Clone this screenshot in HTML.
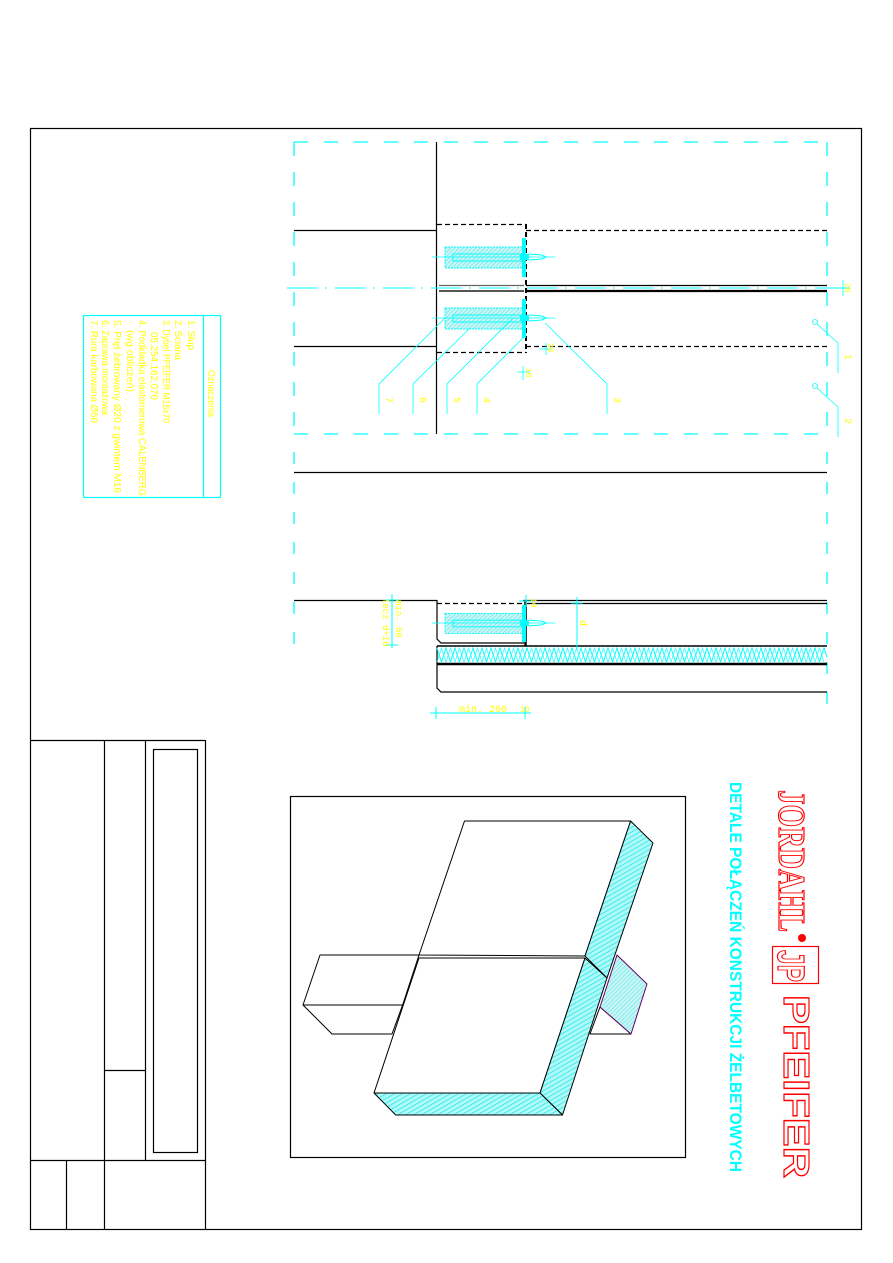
<!DOCTYPE html>
<html><head><meta charset="utf-8"><style>
html,body{margin:0;padding:0;background:#fff;}
svg{display:block;}
.y{fill:#ffff00;font-family:"Liberation Mono",monospace;}
.l{fill:#ffff00;font-family:"Liberation Sans",sans-serif;}
</style></head><body>
<svg width="893" height="1263" viewBox="0 0 893 1263" xmlns="http://www.w3.org/2000/svg">
<defs>
<pattern id="h" width="4" height="4" patternUnits="userSpaceOnUse" patternTransform="rotate(60)">
<rect width="4" height="4" fill="#aef8f8"/><line x1="0" y1="0" x2="0" y2="4" stroke="#00e5e5" stroke-width="1.2"/>
</pattern>
<pattern id="hp" width="3" height="3" patternUnits="userSpaceOnUse" patternTransform="rotate(45)">
<rect width="3" height="3" fill="#c8f6f6"/><line x1="0" y1="0" x2="0" y2="3" stroke="#33dddd" stroke-width="0.8"/>
</pattern>
<g id="dowel">
<rect x="445" y="-10" width="79" height="21" fill="url(#hp)" stroke="#00ffff" stroke-width="1" stroke-dasharray="2,1"/>
<rect x="453" y="-3" width="71" height="7" fill="none" stroke="#00ffff" stroke-width="1"/>
<rect x="522" y="-19" width="4" height="39" fill="#00ffff"/>
<rect x="520" y="-3" width="9" height="6" fill="#00ffff"/>
<path d="M529 -3 L542 -2 L546 0 L542 2 L529 3" fill="none" stroke="#00ffff" stroke-width="1"/>
<line x1="432" y1="0" x2="555" y2="0" stroke="#00ffff" stroke-width="0.7"/>
</g>
</defs>

<!-- outer frame -->
<rect x="30.5" y="128.5" width="831" height="1101" fill="none" stroke="#000" stroke-width="1.2"/>

<!-- title block -->
<g stroke="#000" stroke-width="1.2" fill="none">
<line x1="30" y1="740.5" x2="205" y2="740.5"/>
<line x1="205.5" y1="740" x2="205.5" y2="1229"/>
<line x1="104.5" y1="740" x2="104.5" y2="1229"/>
<line x1="145.5" y1="740" x2="145.5" y2="1160"/>
<line x1="30" y1="1160.5" x2="205" y2="1160.5"/>
<line x1="66.5" y1="1160" x2="66.5" y2="1229"/>
<line x1="104" y1="1070.5" x2="145" y2="1070.5"/>
<rect x="153.5" y="749.5" width="44" height="403"/>
</g>

<!-- legend -->
<rect x="83.5" y="315.5" width="137" height="182" fill="none" stroke="#00ffff" stroke-width="1.2"/>
<line x1="203.5" y1="315" x2="203.5" y2="497" stroke="#00ffff" stroke-width="1.2"/>
<g class="l" font-size="10">
<text transform="translate(208,370) rotate(90)" textLength="47" lengthAdjust="spacingAndGlyphs">Oznaczenia</text>
<text transform="translate(188,320) rotate(90)" textLength="30" lengthAdjust="spacingAndGlyphs">1. Słup</text>
<text transform="translate(175,320) rotate(90)" textLength="40" lengthAdjust="spacingAndGlyphs">2. Ściana</text>
<text transform="translate(163,320) rotate(90)" textLength="103" lengthAdjust="spacingAndGlyphs">3. Dybel PFEIFER M16x70</text>
<text transform="translate(151,332) rotate(90)" textLength="68" lengthAdjust="spacingAndGlyphs">05.254.162.070</text>
<text transform="translate(139,320) rotate(90)" textLength="176" lengthAdjust="spacingAndGlyphs">4. Podkładka elastomerowa CALENBERG</text>
<text transform="translate(127,330) rotate(90)" textLength="62" lengthAdjust="spacingAndGlyphs">(wg obliczeń)</text>
<text transform="translate(114,320) rotate(90)" textLength="173" lengthAdjust="spacingAndGlyphs">5. Pręt żebrowany Ø20 z gwintem M16</text>
<text transform="translate(102,320) rotate(90)" textLength="95" lengthAdjust="spacingAndGlyphs">6. Zaprawa montażowa</text>
<text transform="translate(91,320) rotate(90)" textLength="103" lengthAdjust="spacingAndGlyphs">7. Rura karbowana Ø60</text>
</g>

<!-- upper detail -->
<g fill="none" stroke="#00ffff" stroke-width="1.3" stroke-dasharray="14,16">
<line x1="294" y1="142" x2="827" y2="142"/>
<line x1="294" y1="434" x2="827" y2="434"/>
<line x1="294" y1="142" x2="294" y2="434"/>
<line x1="827" y1="142" x2="827" y2="434"/>
</g>
<g stroke="#000" stroke-width="1.2" fill="none">
<line x1="436.5" y1="142" x2="436.5" y2="434"/>
<line x1="294" y1="230.5" x2="437" y2="230.5"/>
<line x1="294" y1="346.5" x2="437" y2="346.5"/>
<g stroke-dasharray="5,3">
<line x1="526" y1="230.5" x2="827" y2="230.5"/>
<line x1="526" y1="346.5" x2="827" y2="346.5"/>
<line x1="437" y1="224.5" x2="526" y2="224.5"/>
<line x1="437" y1="352.5" x2="526" y2="352.5"/>
<line x1="526" y1="224" x2="526" y2="353" stroke-width="2"/>
</g>
<line x1="439" y1="285.5" x2="524" y2="285.5" stroke="#666"/>
<line x1="439" y1="291" x2="524" y2="291" stroke="#555" stroke-width="2"/>
<line x1="526" y1="285.5" x2="827" y2="285.5"/>
<line x1="526" y1="291" x2="827" y2="291" stroke-width="2.2"/>
</g>
<line x1="287" y1="288" x2="845" y2="288" stroke="#00ffff" stroke-width="1" stroke-dasharray="30,8,2,8"/>
<use href="#dowel" transform="translate(0,257)"/>
<use href="#dowel" transform="translate(0,318)"/>

<!-- leaders -->
<g stroke="#00ffff" stroke-width="0.8" fill="none">
<polyline points="379,414 379,384 445,318"/>
<polyline points="413,414 413,384 470,328"/>
<polyline points="447,414 447,384 513,318"/>
<polyline points="477,414 477,384 523,338"/>
<polyline points="607,414 607,384 545,323"/>
<circle cx="815" cy="322" r="2.5"/>
<polyline points="817,324 838,343 838,373"/>
<circle cx="815" cy="386" r="2.5"/>
<polyline points="817,388 838,407 838,437"/>
<line x1="517" y1="372" x2="530" y2="372"/><line x1="523" y1="366" x2="523" y2="380"/>
<line x1="540" y1="349" x2="552" y2="349"/><line x1="546" y1="343" x2="546" y2="355"/>
<line x1="837" y1="288" x2="850" y2="288"/><line x1="843" y1="280" x2="843" y2="296"/>
</g>
<g class="y" font-size="10">
<text transform="translate(386,397) rotate(90)">7</text>
<text transform="translate(420,397) rotate(90)">6</text>
<text transform="translate(454,397) rotate(90)">5</text>
<text transform="translate(484,397) rotate(90)">4</text>
<text transform="translate(614,397) rotate(90)">3</text>
<text transform="translate(845,354) rotate(90)">1</text>
<text transform="translate(845,418) rotate(90)">2</text>
<text transform="translate(526,368) rotate(90)" font-size="8">10</text>
<text transform="translate(548,343) rotate(90)" font-size="8">20</text>
<text transform="translate(845,283) rotate(90)" font-size="8">20</text>
</g>

<!-- middle / lower detail -->
<line x1="294" y1="472.5" x2="827" y2="472.5" stroke="#000" stroke-width="1.2"/>
<g stroke="#00ffff" stroke-width="1.3" stroke-dasharray="12,18">
<line x1="294" y1="452" x2="294" y2="660"/>
<line x1="827" y1="452" x2="827" y2="718"/>
</g>
<g stroke="#000" stroke-width="1.2" fill="none">
<line x1="294" y1="600.5" x2="437" y2="600.5"/>
<path d="M437 600 L437 639 L441 643 L524 643"/>
<line x1="437" y1="603.5" x2="523" y2="603.5" stroke-dasharray="5,3"/>
<line x1="523" y1="600.5" x2="827" y2="600.5"/>
<line x1="527" y1="603.5" x2="827" y2="603.5"/>
<line x1="525.5" y1="600" x2="525.5" y2="646" stroke-width="2.5"/>
<path d="M437 646 L437 688 L441 692 L827 692"/>
<line x1="437" y1="664" x2="827" y2="664" stroke-width="2.4"/>
<line x1="437" y1="646" x2="827" y2="646" stroke-width="1.6"/>
</g>
<polyline fill="none" stroke="#00ffff" stroke-width="1" points="437,648 441.5,662 446,648 450.5,662 455,648 459.5,662 464,648 468.5,662 473,648 477.5,662 482,648 486.5,662 491,648 495.5,662 500,648 504.5,662 509,648 513.5,662 518,648 522.5,662 527,648 531.5,662 536,648 540.5,662 545,648 549.5,662 554,648 558.5,662 563,648 567.5,662 572,648 576.5,662 581,648 585.5,662 590,648 594.5,662 599,648 603.5,662 608,648 612.5,662 617,648 621.5,662 626,648 630.5,662 635,648 639.5,662 644,648 648.5,662 653,648 657.5,662 662,648 666.5,662 671,648 675.5,662 680,648 684.5,662 689,648 693.5,662 698,648 702.5,662 707,648 711.5,662 716,648 720.5,662 725,648 729.5,662 734,648 738.5,662 743,648 747.5,662 752,648 756.5,662 761,648 765.5,662 770,648 774.5,662 779,648 783.5,662 788,648 792.5,662 797,648 801.5,662 806,648 810.5,662 815,648 819.5,662 824,648 827,657"/>
<polyline fill="none" stroke="#00ffff" stroke-width="0.6" points="437,662 441.5,648 446,662 450.5,648 455,662 459.5,648 464,662 468.5,648 473,662 477.5,648 482,662 486.5,648 491,662 495.5,648 500,662 504.5,648 509,662 513.5,648 518,662 522.5,648 527,662 531.5,648 536,662 540.5,648 545,662 549.5,648 554,662 558.5,648 563,662 567.5,648 572,662 576.5,648 581,662 585.5,648 590,662 594.5,648 599,662 603.5,648 608,662 612.5,648 617,662 621.5,648 626,662 630.5,648 635,662 639.5,648 644,662 648.5,648 653,662 657.5,648 662,662 666.5,648 671,662 675.5,648 680,662 684.5,648 689,662 693.5,648 698,662 702.5,648 707,662 711.5,648 716,662 720.5,648 725,662 729.5,648 734,662 738.5,648 743,662 747.5,648 752,662 756.5,648 761,662 765.5,648 770,662 774.5,648 779,662 783.5,648 788,662 792.5,648 797,662 801.5,648 806,662 810.5,648 815,662 819.5,648 824,662"/>
<use href="#dowel" transform="translate(0,623) scale(1,0.95)"/>
<g stroke="#00ffff" stroke-width="1" fill="none">
<line x1="392" y1="594" x2="392" y2="648"/>
<line x1="386" y1="600" x2="398" y2="600"/><line x1="386" y1="645" x2="398" y2="645"/>
<line x1="577" y1="597" x2="577" y2="650"/>
<line x1="571" y1="603" x2="583" y2="603"/>
<line x1="519" y1="601" x2="533" y2="601"/><line x1="526" y1="595" x2="526" y2="607"/>
<line x1="430" y1="713" x2="531" y2="713"/>
<line x1="436" y1="707" x2="436" y2="719"/><line x1="525" y1="707" x2="525" y2="719"/>
</g>
<g class="y" font-size="10">
<text transform="translate(383,598) rotate(90)" font-size="9">lecz d+10</text>
<text transform="translate(396,600) rotate(90)" font-size="9">min. 50</text>
<text transform="translate(580,620) rotate(90)">d</text>
<text transform="translate(531,598) rotate(90)" font-size="8">10</text>
<text x="459" y="712" font-size="10">min. 200</text>
<text x="520" y="712" font-size="8">10</text>
</g>

<!-- 3D view -->
<rect x="290.5" y="796.5" width="395" height="361" fill="none" stroke="#000" stroke-width="1.2"/>
<g stroke="#000" stroke-width="1" fill="#fff" stroke-linejoin="round">
<polygon points="320,955 419,955 402.6,1005 303,1005"/>
<polygon points="303,1005 402.6,1005 392,1034 332,1034"/>
<polygon points="590,1034 631,1034 600,1007"/>
<polygon points="464.5,821 630.6,821 585,956 419,955"/>
<polygon points="630.6,821 653,843 607,978 585,956" fill="url(#h)"/>
<polygon points="617,955 647,984 631,1034 600,1007" fill="url(#hp)" stroke="#606"/>
<polygon points="419,958 585,958 540,1093 374,1093"/>
<polygon points="585,958 607,978 562.5,1115 540,1093" fill="url(#h)"/>
<polygon points="374,1093 540,1093 562.5,1115 395.7,1115" fill="url(#h)"/>
</g>

<!-- logo -->
<g font-family="Liberation Sans, sans-serif" font-weight="bold">
<text transform="translate(730,782) rotate(90)" fill="#00ffff" font-size="17" textLength="390" lengthAdjust="spacingAndGlyphs">DETALE POŁĄCZEŃ KONSTRUKCJI ŻELBETOWYCH</text>
<text transform="translate(779,790) rotate(90)" fill="#fff" stroke="#ff0000" stroke-width="1.2" font-family="Liberation Serif, serif" font-size="38" textLength="142" lengthAdjust="spacingAndGlyphs">JORDAHL</text>
<circle cx="802" cy="938" r="4" fill="#ff0000"/>
<rect x="772.5" y="946.5" width="46" height="37" fill="#fff" stroke="#ff0000" stroke-width="1.2"/>
<text transform="translate(778,950) rotate(90)" fill="#fff" stroke="#ff0000" stroke-width="1.2" font-size="38" textLength="32" lengthAdjust="spacingAndGlyphs">JP</text>
<text transform="translate(784,995) rotate(90)" fill="#fff" stroke="#ff0000" stroke-width="1.2" font-size="36" textLength="183" lengthAdjust="spacingAndGlyphs">PFEIFER</text>
</g>
</svg>
</body></html>
